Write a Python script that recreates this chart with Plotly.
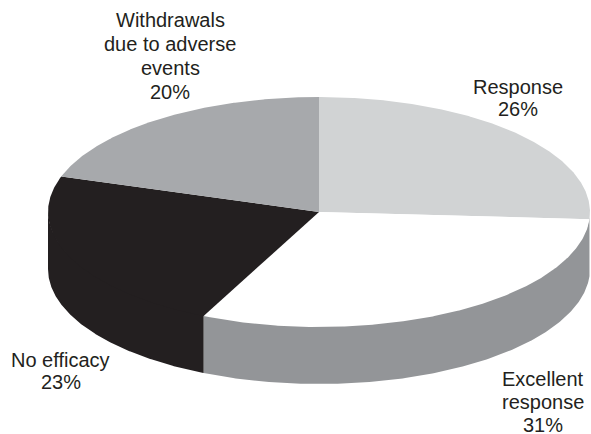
import numpy as np
import plotly.graph_objects as go

# Outcome shares (percent), clockwise from 12 o'clock
labels = ["Response", "Excellent response", "No efficacy", "Withdrawals due to adverse events"]
values = [26, 31, 23, 20]
label_lines = [
    ["Response", "26%"],
    ["Excellent", "response", "31%"],
    ["No efficacy", "23%"],
    ["Withdrawals", "due to adverse", "events", "20%"],
]
top_colors = ["#d1d3d4", "#ffffff", "#231f20", "#a7a9ac"]
side_colors = ["#b3b5b8", "#939598", "#231f20", "#8f9194"]

# Label anchor (centre x, first baseline y, line step) in page pixels
label_pos = [
    (517.5, 94, 22),
    (543, 386, 23),
    (60.5, 367, 22),
    (170, 27, 24),
]

W, H = 591, 434
CX, CY = 319, 212      # centre of the top face
RX, RY = 271, 115      # radii of the elliptical top face
DEPTH = 57             # thickness of the disc
TUCK = 1.5             # walls start slightly under the top face to hide the seam

total = float(sum(values))
bounds = np.concatenate([[0], np.cumsum(values)]) / total * 2 * np.pi


def rim(theta, dy=0.0):
    return CX + RX * np.sin(theta), CY - RY * np.cos(theta) + dy


fig = go.Figure()

# Side walls: only the front half of the disc (theta between 90 and 270 deg) is visible
for i in range(len(values)):
    t0 = max(bounds[i], np.pi / 2)
    t1 = min(bounds[i + 1], 3 * np.pi / 2)
    if t1 <= t0:
        continue
    t = np.linspace(t0, t1, 200)
    xt, yt = rim(t, -TUCK)
    xb, yb = rim(t[::-1], DEPTH)
    xs = np.concatenate([xt, xb, xt[:1]])
    ys = np.concatenate([yt, yb, yt[:1]])
    fig.add_trace(go.Scatter(
        x=xs, y=ys, mode="lines", fill="toself",
        fillcolor=side_colors[i], line=dict(color=side_colors[i], width=0),
        hoverinfo="skip", showlegend=False,
    ))

# Top faces of the slices
for i in range(len(values)):
    t = np.linspace(bounds[i], bounds[i + 1], 300)
    xt, yt = rim(t)
    xs = np.concatenate([[CX], xt, [CX]])
    ys = np.concatenate([[CY], yt, [CY]])
    fig.add_trace(go.Scatter(
        x=xs, y=ys, mode="lines", fill="toself",
        fillcolor=top_colors[i], line=dict(color=top_colors[i], width=0),
        hoverinfo="skip", showlegend=False, name=labels[i],
    ))

# Slice labels, one annotation per line for a tight line spacing
FONT = dict(family="Liberation Sans, Arial, sans-serif", size=20, color="#231f20")
annotations = []
for lines, (lx, base, step) in zip(label_lines, label_pos):
    for k, line in enumerate(lines):
        annotations.append(dict(
            x=lx, y=base + k * step - 7, xref="x", yref="y",
            text=line, showarrow=False, xanchor="center", yanchor="middle",
            font=FONT,
        ))

fig.update_layout(
    width=W, height=H,
    margin=dict(l=0, r=0, t=0, b=0),
    paper_bgcolor="white", plot_bgcolor="white",
    xaxis=dict(range=[0, W], visible=False, fixedrange=True),
    yaxis=dict(range=[H, 0], visible=False, fixedrange=True),
    annotations=annotations,
    showlegend=False,
)

fig.write_html("out.html")
